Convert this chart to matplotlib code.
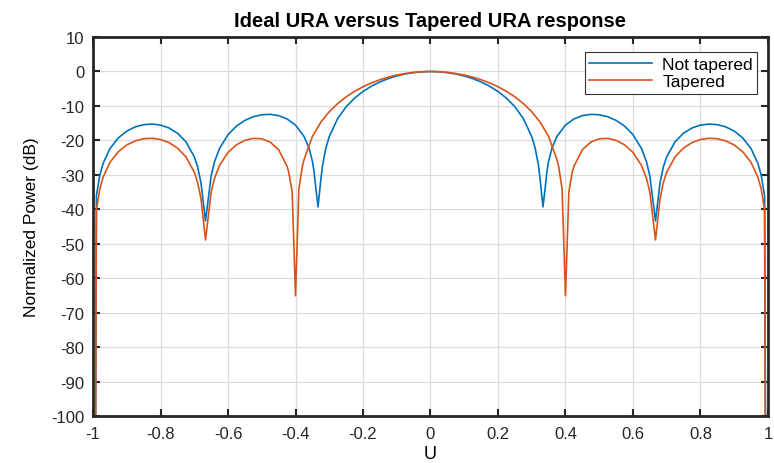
import matplotlib
matplotlib.use("Agg")
from matplotlib import pyplot as plt

plt.rcParams['font.family'] = ['Liberation Sans', 'DejaVu Sans']
plt.rcParams['axes.unicode_minus'] = False

# values (dB), U from -1 to 1
u_not = [-1.0, -0.99, -0.98, -0.97, -0.95, -0.925, -0.9, -0.875, -0.85, -0.825, -0.8,
         -0.775, -0.75, -0.725, -0.7, -0.69, -0.68, -0.6667, -0.65, -0.64, -0.625, -0.6,
         -0.575, -0.55, -0.525, -0.5, -0.475, -0.45, -0.425, -0.4, -0.375, -0.36, -0.35,
         -0.345, -0.34, -0.3333, -0.325, -0.32, -0.31, -0.3, -0.275, -0.25, -0.225, -0.2,
         -0.175, -0.15, -0.125, -0.1, -0.075, -0.05, -0.025,
         0.0,
         0.025, 0.05, 0.075, 0.1, 0.125, 0.15, 0.175, 0.2, 0.225, 0.25, 0.275, 0.3, 0.31,
         0.32, 0.325, 0.3333, 0.34, 0.345, 0.35, 0.36, 0.375, 0.4, 0.425, 0.45, 0.475, 0.5,
         0.525, 0.55, 0.575, 0.6, 0.625, 0.64, 0.65, 0.6667, 0.68, 0.69, 0.7, 0.725, 0.75,
         0.775, 0.8, 0.825, 0.85, 0.875, 0.9, 0.925, 0.95, 0.97, 0.98, 0.99, 1.0]
db_not = [-300, -36.1, -30.1, -26.64, -22.4, -19.25, -17.30, -16.08, -15.43, -15.26, -15.56,
          -16.39, -17.89, -20.37, -24.76, -27.7, -32.45, -43.4, -30.29, -26.2, -22.30, -18.34,
          -15.84, -14.19, -13.12, -12.55, -12.44, -12.81, -13.78, -15.56, -18.80, -22.2, -26.04,
          -29.08, -33.7, -39.3, -31.45, -27.28, -22.19, -18.91, -13.64, -10.23, -7.73, -5.80,
          -4.26, -3.03, -2.06, -1.29, -0.72, -0.32, -0.08,
          0.0,
          -0.08, -0.32, -0.72, -1.29, -2.06, -3.03, -4.26, -5.80, -7.73, -10.23, -13.64, -18.91, -22.19,
          -27.28, -31.45, -39.3, -33.7, -29.08, -26.04, -22.2, -18.80, -15.56, -13.78, -12.81, -12.44, -12.55,
          -13.12, -14.19, -15.84, -18.34, -22.30, -26.2, -30.29, -43.4, -32.45, -27.7, -24.76, -20.37, -17.89,
          -16.39, -15.56, -15.26, -15.43, -16.08, -17.30, -19.25, -22.4, -26.64, -30.1, -36.1, -300]

u_tap = [-1.0, -0.99, -0.98, -0.97, -0.95, -0.925, -0.9, -0.875, -0.85, -0.825, -0.8,
         -0.775, -0.75, -0.725, -0.7, -0.69, -0.68, -0.6667, -0.65, -0.64, -0.625, -0.6,
         -0.575, -0.55, -0.525, -0.5, -0.475, -0.45, -0.425, -0.42, -0.41, -0.4, -0.39,
         -0.38, -0.375, -0.35, -0.325, -0.3, -0.275, -0.25, -0.225, -0.2, -0.175, -0.15,
         -0.125, -0.1, -0.075, -0.05, -0.025,
         0.0,
         0.025, 0.05, 0.075, 0.1, 0.125, 0.15, 0.175, 0.2, 0.225, 0.25, 0.275, 0.3, 0.325,
         0.35, 0.375, 0.38, 0.39, 0.4, 0.41, 0.42, 0.425, 0.45, 0.475, 0.5, 0.525, 0.55,
         0.575, 0.6, 0.625, 0.64, 0.65, 0.6667, 0.68, 0.69, 0.7, 0.725, 0.75, 0.775, 0.8,
         0.825, 0.85, 0.875, 0.9, 0.925, 0.95, 0.97, 0.98, 0.99, 1.0]
db_tap = [-300, -40.1, -34.1, -30.64, -26.4, -23.27, -21.33, -20.14, -19.52, -19.39, -19.74,
          -20.63, -22.2, -24.75, -29.2, -32.24, -37.03, -48.9, -35.04, -30.99, -27.23, -23.48,
          -21.27, -19.98, -19.41, -19.54, -20.49, -22.7, -27.54, -29.25, -34.88, -65.1, -34.12,
          -27.7, -25.65, -18.88, -14.71, -11.68, -9.30, -7.36, -5.76, -4.43, -3.31, -2.39,
          -1.63, -1.03, -0.58, -0.26, -0.06,
          0.0,
          -0.06, -0.26, -0.58, -1.03, -1.63, -2.39, -3.31, -4.43, -5.76, -7.36, -9.30, -11.68, -14.71,
          -18.88, -25.65, -27.7, -34.12, -65.1, -34.88, -29.25, -27.54, -22.7, -20.49, -19.54, -19.41, -19.98,
          -21.27, -23.48, -27.23, -30.99, -35.04, -48.9, -37.03, -32.24, -29.2, -24.75, -22.2, -20.63, -19.74,
          -19.39, -19.52, -20.14, -21.33, -23.27, -26.4, -30.64, -34.1, -40.1, -300]

x_ticks = [-1, -0.8, -0.6, -0.4, -0.2, 0, 0.2, 0.4, 0.6, 0.8, 1]
x_tick_labels = ["-1", "-0.8", "-0.6", "-0.4", "-0.2", "0", "0.2", "0.4", "0.6", "0.8", "1"]
y_ticks = list(range(-100, 11, 10))

fig = plt.figure(figsize=(7.74, 4.64), dpi=100)
ax = fig.add_axes([0.1202, 0.1013, 0.8720, 0.8167])

ax.plot(u_not, db_not, color="#0072BD", linewidth=1.2, label="Not tapered")
ax.plot(u_tap, db_tap, color="#D95319", linewidth=1.2, label="Tapered")

ax.set_xlim(-1, 1)
ax.set_ylim(-100, 10)
ax.set_xticks(x_ticks)
ax.set_xticklabels(x_tick_labels)
ax.set_yticks(y_ticks)
ax.tick_params(direction="in", length=5, width=1.5, top=True, right=True,
               labelsize=12, color="#262626", labelcolor="#262626")
ax.tick_params(axis="x", pad=7)
ax.tick_params(axis="y", pad=6)
for sp in ax.spines.values():
    sp.set_linewidth(2)
    sp.set_color("#262626")
ax.grid(True, color="#dcdcdc", linewidth=0.9)
ax.set_axisbelow(True)

ax.set_title("Ideal URA versus Tapered URA response", fontsize=14.5, fontweight="bold", pad=8)
ax.set_xlabel("U", fontsize=13, labelpad=3)
ax.set_ylabel("Normalized Power (dB)", fontsize=12.5, labelpad=9)

leg = ax.legend(loc="upper right", bbox_to_anchor=(0.984, 0.960), fontsize=12.5,
                fancybox=False, framealpha=1, edgecolor="#333333", handlelength=3.6,
                borderpad=0.25, labelspacing=0.15, handletextpad=0.6, borderaxespad=0)
leg.get_frame().set_linewidth(0.8)

fig.savefig("out.png", dpi=100)
